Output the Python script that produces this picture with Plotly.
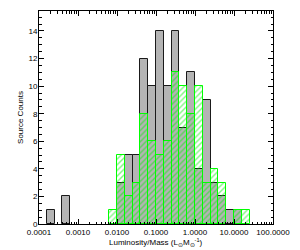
import math
import plotly.graph_objects as go

# log10(L/M) bin centres (0.2 dex bins)
bin_centers = [-3.7, -3.5, -3.3, -3.1, -2.9, -2.7, -2.5, -2.3, -2.1, -1.9, -1.7, -1.5, -1.3,
               -1.1, -0.9, -0.7, -0.5, -0.3, -0.1, 0.1, 0.3, 0.5, 0.7, 0.9, 1.1, 1.3]
bin_width = 0.2
gray_counts = [1, 0, 2, 0, 0, 0, 0, 0, 0, 3, 5, 5, 12,
               10, 14, 10, 14, 7, 11, 4, 9, 3, 2, 1, 1, 0]
green_counts = [0, 0, 0, 0, 0, 0, 0, 0, 1, 5, 2, 3, 8,
                6, 5, 6, 11, 10, 8, 10, 3, 4, 3, 0, 1, 1]

x_tick_log = [-4, -3, -2, -1, 0, 1, 2]
x_tick_text = ["0.0001", "0.0010", "0.0100", "0.1000", "1.0000", "10.0000", "100.0000"]
minor_log = [math.log10(m) + e for e in range(-4, 2) for m in range(2, 10)]
x_title = "Luminosity/Mass (L<sub>⊙</sub>M<sub>⊙</sub><sup>-1</sup>)"
y_title = "Source Counts"

def nz(xs, ys):
    pairs = [(x, y) for x, y in zip(xs, ys) if y > 0]
    return [p[0] for p in pairs], [p[1] for p in pairs]

gx, gy = nz(bin_centers, gray_counts)
hx, hy = nz(bin_centers, green_counts)

FONT = "Liberation Sans, Arial, sans-serif"

fig = go.Figure()
fig.add_trace(go.Bar(x=gx, y=gy, width=bin_width,
                     marker=dict(color="#b4b4b4", line=dict(color="#1a1a1a", width=1)),
                     showlegend=False))
fig.add_trace(go.Bar(x=hx, y=hy, width=bin_width,
                     marker=dict(color="rgba(0,0,0,0)", line=dict(color="#00ff00", width=1),
                                 pattern=dict(shape="/", fgcolor="#00ee00", bgcolor="rgba(0,0,0,0)",
                                              size=4, solidity=0.35, fillmode="overlay")),
                     showlegend=False))

fig.update_layout(
    width=300, height=250,
    margin=dict(l=39, r=25, t=10, b=26),
    paper_bgcolor="white", plot_bgcolor="white",
    barmode="overlay", bargap=0,
    font=dict(family=FONT, size=8, color="black"),
    xaxis=dict(range=[-4, 2], tickmode="array", tickvals=x_tick_log, ticktext=x_tick_text,
               ticks="inside", ticklen=5, tickwidth=1, tickcolor="black",
               minor=dict(tickmode="array", tickvals=minor_log, ticks="inside", ticklen=2.5,
                          tickcolor="black", showgrid=False),
               showline=True, linecolor="black", linewidth=1, mirror="ticks",
               showgrid=False, zeroline=False, tickfont=dict(size=8)),
    yaxis=dict(range=[0, 15.45], dtick=2, tick0=0,
               ticks="inside", ticklen=5, tickwidth=1, tickcolor="black",
               minor=dict(dtick=0.5, ticks="inside", ticklen=2.5, tickcolor="black", showgrid=False),
               showline=True, linecolor="black", linewidth=1, mirror="ticks",
               showgrid=False, zeroline=False, tickfont=dict(size=8),
               ticklabelstandoff=-1,
               title=dict(text=y_title, font=dict(size=8), standoff=3)),
    annotations=[dict(text=x_title, xref="paper", yref="paper", x=0.5, y=-19.0 / 214,
                      xanchor="center", yanchor="middle", showarrow=False,
                      font=dict(size=8, family=FONT))],
)

fig.write_html("out.html", config={"displayModeBar": False},
               post_script="document.body.style.margin='0';document.body.style.overflow='hidden';")
